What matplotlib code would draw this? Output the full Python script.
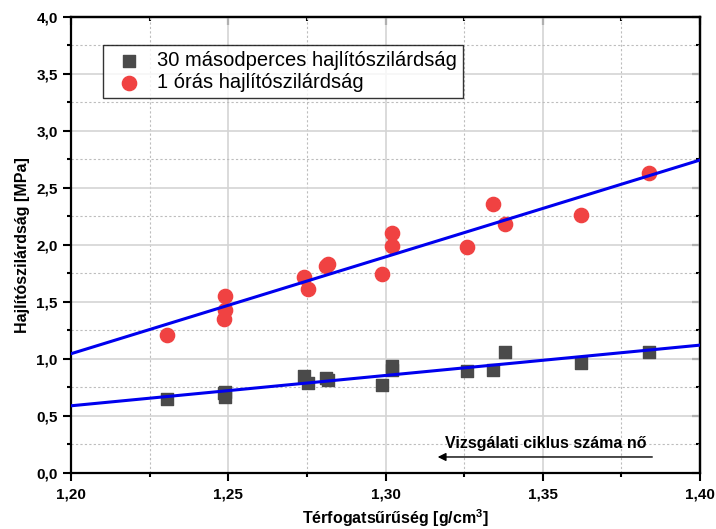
import matplotlib
matplotlib.use("Agg")
import matplotlib.pyplot as plt
import numpy as np
from matplotlib.ticker import MultipleLocator, FuncFormatter

plt.rcParams["font.family"] = ["Liberation Sans", "DejaVu Sans"]
plt.rcParams["mathtext.fontset"] = "custom"
plt.rcParams["mathtext.rm"] = "Liberation Sans"
plt.rcParams["mathtext.bf"] = "Liberation Sans:bold"

# Térfogatsűrűség [g/cm3]
density = [1.2304, 1.2488, 1.2488, 1.2485, 1.2741, 1.2754, 1.2811, 1.2817,
           1.2989, 1.3021, 1.3021, 1.3259, 1.3342, 1.3380, 1.3622, 1.3838]
# 30 másodperces hajlítószilárdság [MPa]
strength_30s = [0.65, 0.66, 0.71, 0.70, 0.85, 0.79, 0.83, 0.81,
                0.77, 0.94, 0.90, 0.89, 0.90, 1.06, 0.96, 1.06]
# 1 órás hajlítószilárdság [MPa]
strength_1h = [1.21, 1.55, 1.43, 1.35, 1.72, 1.61, 1.81, 1.83,
               1.74, 2.10, 1.99, 1.98, 2.36, 2.18, 2.26, 2.63]

x_limits = [1.20, 1.40]
y_limits = [0.0, 4.0]


def comma2(v, pos):
    return f"{v:.2f}".replace(".", ",")


def comma1(v, pos):
    return f"{v:.1f}".replace(".", ",")


fig = plt.figure(figsize=(7.16, 5.29), dpi=100)
ax = fig.add_axes([0.0992, 0.1064, 0.8785, 0.862])

ax.scatter(density, strength_30s, marker="s", s=78, color="#4a4a4a",
           label="30 másodperces hajlítószilárdság", zorder=3)
ax.scatter(density, strength_1h, marker="o", s=105, color="#f04242",
           label="1 órás hajlítószilárdság", zorder=3)

xs = np.array(x_limits)
for series in (strength_30s, strength_1h):
    k, b = np.polyfit(density, series, 1)
    ax.plot(xs, k * xs + b, color="#0000ee", lw=2.2, zorder=4)

ax.set_xlim(x_limits)
ax.set_ylim(y_limits)
ax.xaxis.set_major_locator(MultipleLocator(0.05))
ax.xaxis.set_minor_locator(MultipleLocator(0.025))
ax.yaxis.set_major_locator(MultipleLocator(0.5))
ax.yaxis.set_minor_locator(MultipleLocator(0.25))
ax.xaxis.set_major_formatter(FuncFormatter(comma2))
ax.yaxis.set_major_formatter(FuncFormatter(comma1))

ax.grid(which="major", color="#d4d4d4", lw=1.2)
ax.grid(which="minor", color="#bdbdbd", lw=0.8, ls=(0, (2, 2)))
ax.set_axisbelow(True)

# left/bottom ticks point out, top/right ticks point in
ax.tick_params(which="both", direction="out", top=False, right=False, width=1.5)
ax.tick_params(which="major", length=5.5, labelsize=11, pad=4)
ax.tick_params(axis="x", which="major", pad=5)
ax.tick_params(which="minor", length=3)
for lab in ax.get_xticklabels() + ax.get_yticklabels():
    lab.set_fontweight("bold")

top = ax.secondary_xaxis("top")
top.xaxis.set_major_locator(MultipleLocator(0.05))
top.xaxis.set_minor_locator(MultipleLocator(0.025))
top.tick_params(which="both", direction="in", labeltop=False, width=1.5)
top.tick_params(which="major", length=5.5)
top.tick_params(which="minor", length=3)
right = ax.secondary_yaxis("right")
right.yaxis.set_major_locator(MultipleLocator(0.5))
right.yaxis.set_minor_locator(MultipleLocator(0.25))
right.tick_params(which="both", direction="in", labelright=False, width=1.5)
right.tick_params(which="major", length=5.5)
right.tick_params(which="minor", length=3)

for a in (ax, top, right):
    for sp in a.spines.values():
        sp.set_linewidth(1.6)

ax.set_xlabel("Térfogatsűrűség [g/cm$^\\mathbf{3}$]", fontsize=11.5, fontweight="bold")
ax.set_ylabel("Hajlítószilárdság [MPa]", fontsize=11.5, fontweight="bold")
ax.xaxis.set_label_coords(0.515, -0.075)
ax.yaxis.set_label_coords(-0.066, 0.5)

leg = ax.legend(loc="upper left", bbox_to_anchor=(0.051, 0.937), fontsize=14.5,
                frameon=True, fancybox=False, edgecolor="black",
                handlelength=2.0, handletextpad=0.4, borderpad=0.3,
                labelspacing=0.12, borderaxespad=0, scatterpoints=1)
leg.get_frame().set_linewidth(1.0)

ax.annotate("", xy=(1.3157, 0.138), xytext=(1.3857, 0.138),
            arrowprops=dict(arrowstyle="-|>", color="black", lw=1.0,
                            mutation_scale=12))
ax.text(1.351, 0.26, "Vizsgálati ciklus száma nő", ha="center", va="center",
        fontsize=11.5, fontweight="bold")

fig.savefig("out.png", dpi=100)
